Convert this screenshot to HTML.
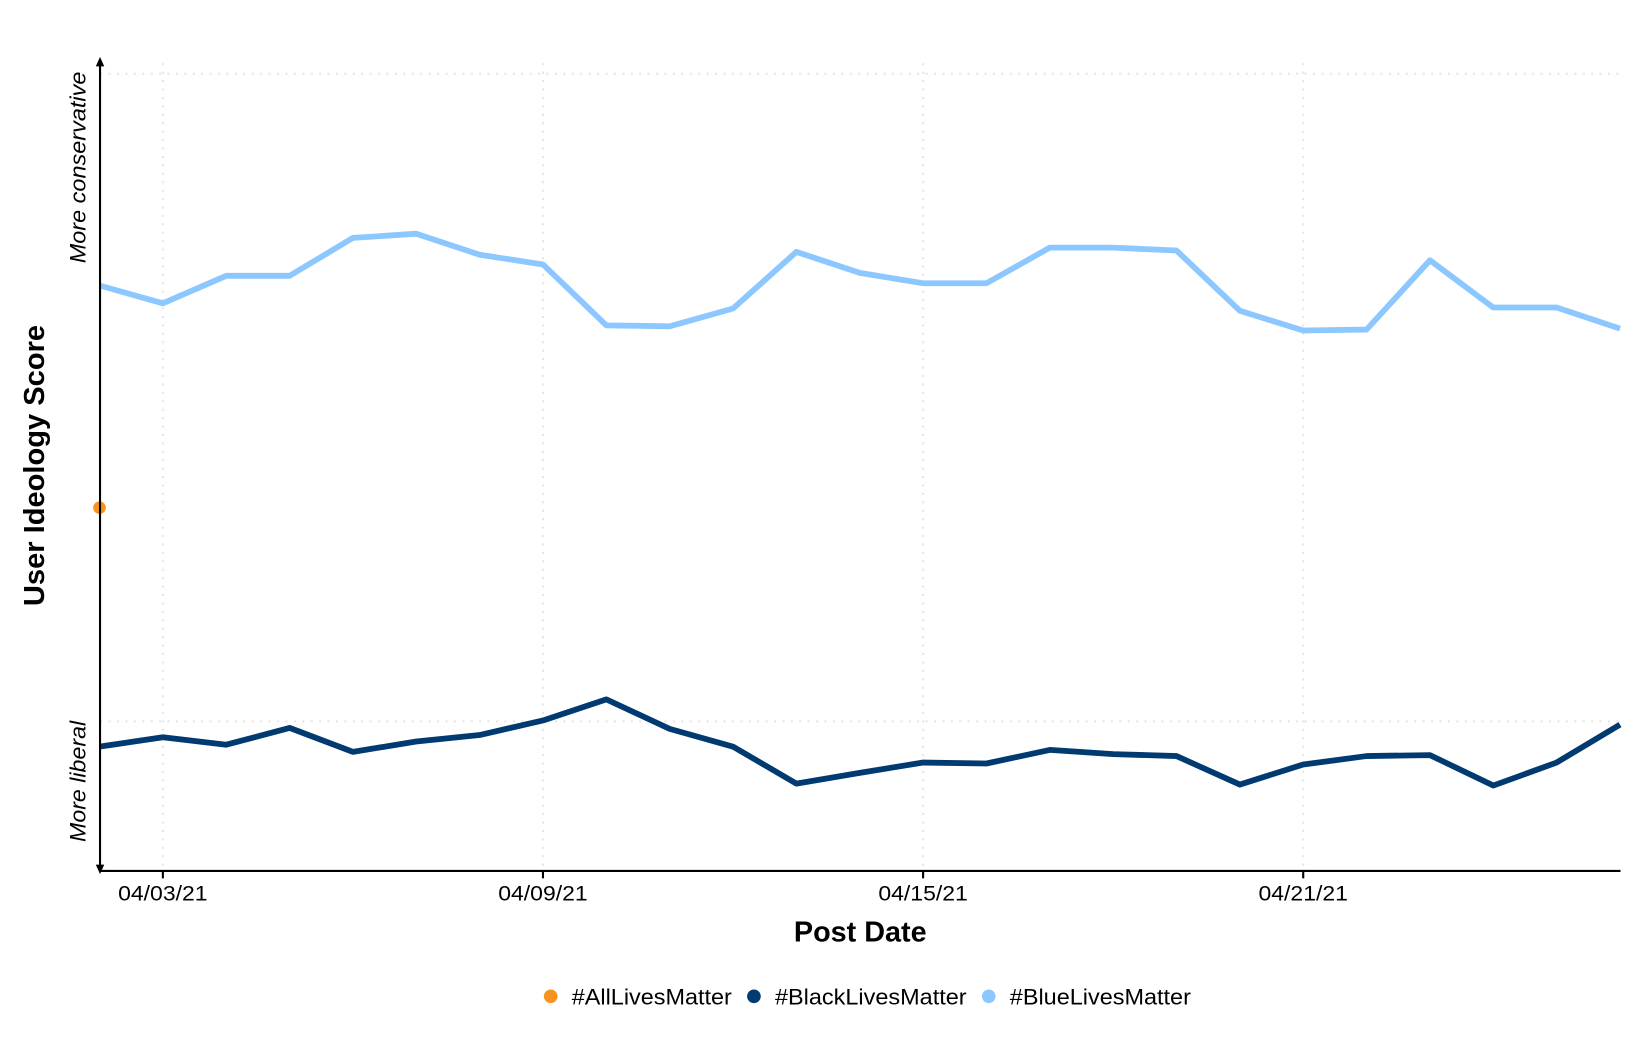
<!DOCTYPE html>
<html><head><meta charset="utf-8"><style>
html,body{margin:0;padding:0;background:#fff;width:1650px;height:1050px;overflow:hidden}
svg{display:block;font-family:"Liberation Sans",Arial,sans-serif}
</style></head><body>
<svg id="chart" width="1650" height="1050" viewBox="0 0 1567 997" preserveAspectRatio="none">
<g id="grid"></g>
<g id="series"></g>
<g id="axes">
<line x1="95" y1="60" x2="95" y2="824" stroke="#000" stroke-width="2"/>
<path d="M91,63 L95,54 L99,63 Z" fill="#000"/>
<path d="M91,821 L95,830 L99,821 Z" fill="#000"/>
<line x1="95" y1="827" x2="1539" y2="827" stroke="#000" stroke-width="2"/>
</g>
<g id="xticks"></g>
<text transform="translate(81,159) rotate(-90)" text-anchor="middle" font-size="21.5" font-style="italic" textLength="182" lengthAdjust="spacingAndGlyphs">More conservative</text>
<text transform="translate(81,742) rotate(-90)" text-anchor="middle" font-size="21.5" font-style="italic" textLength="115" lengthAdjust="spacingAndGlyphs">More liberal</text>
<text transform="translate(42,442) rotate(-90)" text-anchor="middle" font-size="27" font-weight="bold" textLength="267" lengthAdjust="spacingAndGlyphs">User Ideology Score</text>
<text x="817" y="894" text-anchor="middle" font-size="27" font-weight="bold" textLength="126" lengthAdjust="spacingAndGlyphs">Post Date</text>
<g>
<g><circle cx="523" cy="946" r="6.5" fill="#f7941d"/><text x="543" y="954" font-size="21" textLength="152" lengthAdjust="spacingAndGlyphs">#AllLivesMatter</text></g>
<g><circle cx="716" cy="946" r="6.5" fill="#003a70"/><text x="736" y="954" font-size="21" textLength="182" lengthAdjust="spacingAndGlyphs">#BlackLivesMatter</text></g>
<g><circle cx="939" cy="946" r="6.5" fill="#8cc8ff"/><text x="959" y="954" font-size="21" textLength="172" lengthAdjust="spacingAndGlyphs">#BlueLivesMatter</text></g>
</g>
</svg>
<script>
const dayIndex = [0,1,2,3,4,5,6,7,8,9,10,11,12,13,14,15,16,17,18,19,20,21,22,23,24];
const blueLives = [0.346,0.291,0.376,0.376,0.493,0.506,0.441,0.411,0.223,0.220,0.275,0.450,0.385,0.353,0.353,0.463,0.463,0.454,0.268,0.207,0.210,0.424,0.278,0.278,0.213];
const blackLives = [-1.078,-1.049,-1.072,-1.020,-1.094,-1.062,-1.042,-0.997,-0.932,-1.023,-1.078,-1.192,-1.159,-1.127,-1.130,-1.088,-1.101,-1.107,-1.195,-1.133,-1.107,-1.104,-1.198,-1.127,-1.010];
const allLivesDay = [0];
const allLives = [-0.34];
const tickDays = [1,7,13,19];
const tickLabels = ["04/03/21","04/09/21","04/15/21","04/21/21"];
const gridValues = [1,-1];

const NS="http://www.w3.org/2000/svg";
function xS(d){return 94.5+d*(1538.5-94.5)/24;}
function yS(v){return 377.5-307.5*v;}
function mk(tag,attrs,parent){const e=document.createElementNS(NS,tag);for(const k in attrs)e.setAttribute(k,attrs[k]);parent.appendChild(e);return e;}
const grid=document.getElementById('grid');
gridValues.forEach(v=>{
  const l=mk('line',{x1:95,x2:1539,y1:yS(v),y2:yS(v),stroke:'#e6e6e6','stroke-width':2,'stroke-dasharray':'2,6'},grid);
  
  
});
const xt=document.getElementById('xticks');
tickDays.forEach((d,i)=>{
  const g=mk('line',{x1:xS(d),x2:xS(d),y1:60,y2:827,stroke:'#e6e6e6','stroke-width':2,'stroke-dasharray':'2,6'},grid);
  
  
  const t=mk('line',{x1:xS(d),x2:xS(d),y1:827,y2:834,stroke:'#000','stroke-width':2},xt);
  
  
  const tx=mk('text',{x:xS(d),y:855,'text-anchor':'middle','font-size':20.5,textLength:85,lengthAdjust:'spacingAndGlyphs'},xt);
  tx.textContent=tickLabels[i];
  
  
});
const ser=document.getElementById('series');
function line(vals,color,name){
  const p=mk('polyline',{points:vals.map((v,i)=>xS(dayIndex[i])+','+yS(v)).join(' '),fill:'none',stroke:color,'stroke-width':5.5,'stroke-linejoin':'round'},ser);
  
  
}
line(blueLives,'#8cc8ff','bluelivesmatter-line');
line(blackLives,'#003a70','blacklivesmatter-line');
allLives.forEach((v,i)=>{
  const c=mk('circle',{cx:xS(allLivesDay[i]),cy:yS(v),r:6,fill:'#f7941d'},ser);
  
  
});
</script>
</body></html>
